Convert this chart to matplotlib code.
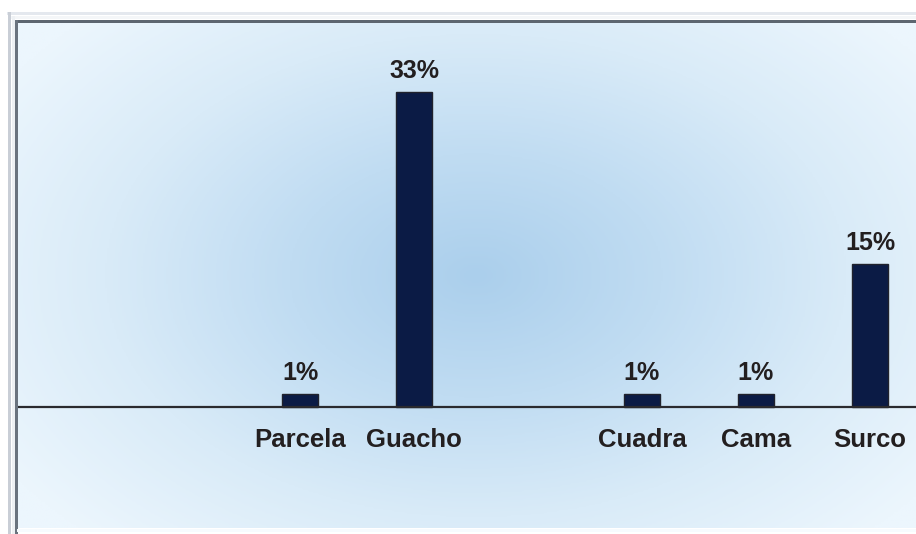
import numpy as np
import matplotlib.pyplot as plt
from matplotlib.colors import LinearSegmentedColormap
from matplotlib.lines import Line2D

# Survey share per planting unit (empty slots keep the original spacing)
categories = ["", "", "Parcela", "Guacho", "", "Cuadra", "Cama", "Surco"]
values = [0, 0, 1.4, 33, 0, 1.4, 1.4, 15]
shown = [False, False, True, True, False, True, True, True]

BAR_COLOR = "#0b1b45"
TEXT_COLOR = "#231f20"
FONT = "Liberation Sans"

fig = plt.figure(figsize=(9.16, 5.34), dpi=100)
fig.patch.set_facecolor("white")

W, H = 916, 534
ax = fig.add_axes([18 / W, 6 / H, (916 - 18) / W, (528 - 23) / H])

# soft radial blue background
ny, nx = 300, 520
gx, gy = np.meshgrid(np.linspace(0, 1, nx), np.linspace(0, 1, ny))
r = np.sqrt(((gx - 0.51) / 0.62) ** 2 + ((gy - 0.50) / 0.72) ** 2)
r = np.clip(r, 0, 1)
cmap = LinearSegmentedColormap.from_list(
    "bg", ["#abcfec", "#c0dcf2", "#d9ebf8", "#ecf6fd"])
ax.imshow(r, cmap=cmap, extent=[0, 1, 0, 1], transform=ax.transAxes,
          aspect="auto", zorder=0, interpolation="bilinear")

x = np.arange(len(categories))
vals = np.array(values, dtype=float)
mask = np.array(shown)
ax.bar(x[mask], vals[mask], width=0.32, color=BAR_COLOR,
       edgecolor="#20222c", linewidth=1.0, zorder=3)

ax.axhline(0, color="#2a2a2e", linewidth=1.6, zorder=4)

for xi, v, cat, s in zip(x, values, categories, shown):
    if not s:
        continue
    ax.annotate(f"{v:.0f}%", (xi, v), xytext=(0, 6), textcoords="offset points",
                ha="center", va="bottom", fontsize=18, fontweight="bold",
                color=TEXT_COLOR, family=FONT, zorder=5)
    ax.annotate(cat, (xi, 0), xytext=(0, -15), textcoords="offset points",
                ha="center", va="top", fontsize=18.5, fontweight="bold",
                color=TEXT_COLOR, family=FONT, zorder=5)

ax.set_xlim(-0.474, 7.404)
ax.set_ylim(-12.67, 40.2)
ax.axis("off")

# bevelled frame on the top and left edges
frame = [
    ((8 / W, 1.0), (1 - 13 / H, 1 - 13 / H), "#e4e8ee", 3.0),
    ((11 / W, 1.0), (1 - 17 / H, 1 - 17 / H), "#f4f6f8", 3.0),
    ((15 / W, 1.0), (1 - 21 / H, 1 - 21 / H), "#5d6670", 3.0),
    ((9 / W, 9 / W), (0, 1 - 13 / H), "#c9ced6", 3.0),
    ((12.5 / W, 12.5 / W), (0, 1 - 17 / H), "#eef1f4", 3.0),
    ((16 / W, 16 / W), (2 / H, 1 - 21 / H), "#6a737e", 3.0),
    ((18 / W, 1.0), (4 / H, 4 / H), "#f7fbfe", 3.0),
]
for xs, ys, c, lw in frame:
    fig.add_artist(Line2D(xs, ys, color=c, linewidth=lw * 0.72,
                          transform=fig.transFigure, zorder=10))

fig.savefig("out.png", dpi=100)
